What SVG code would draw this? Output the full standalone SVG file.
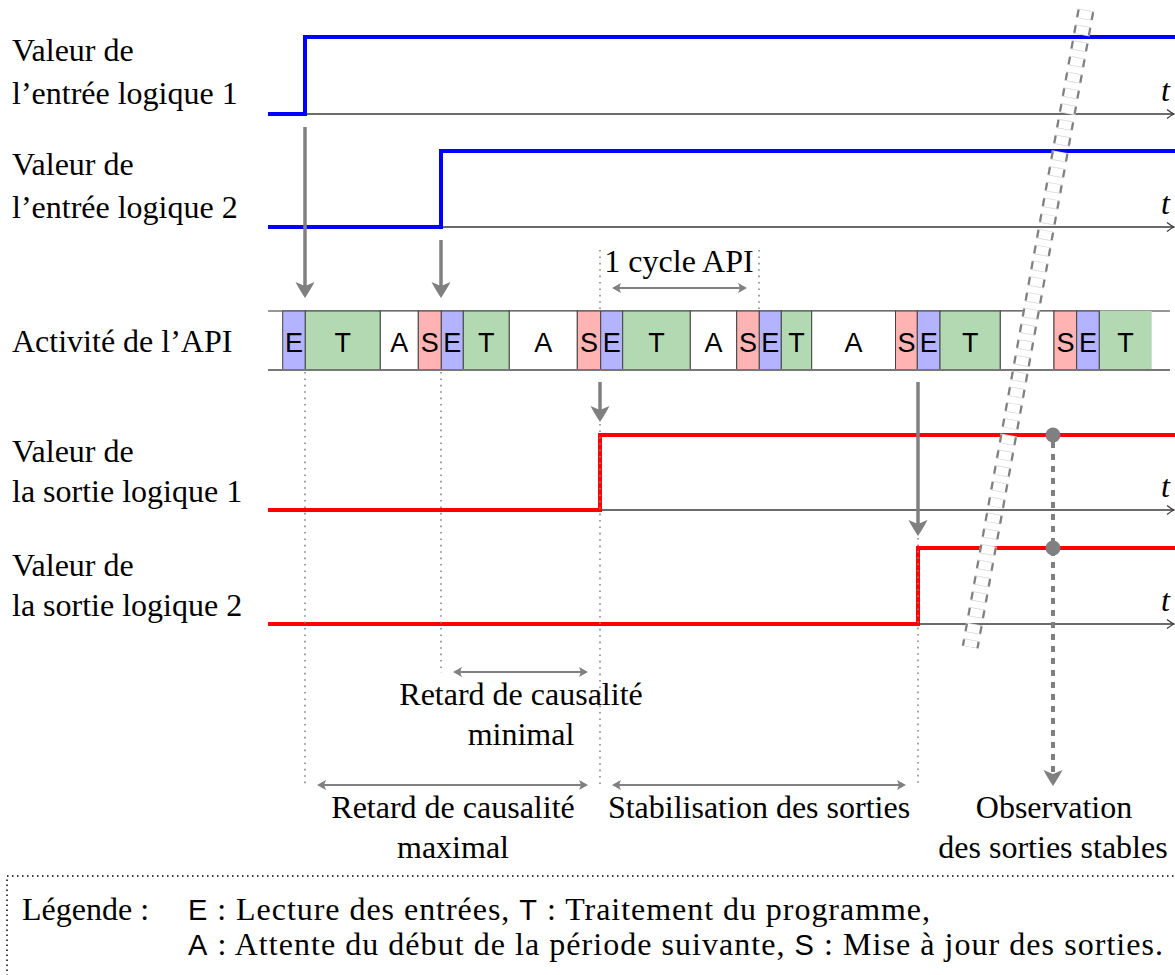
<svg xmlns="http://www.w3.org/2000/svg" xmlns:xlink="http://www.w3.org/1999/xlink" width="1175" height="975" viewBox="0 0 1175 975">
<style>
.lbl{font-family:"Liberation Serif","Times New Roman",serif;font-size:32px;fill:#000}
.mid{text-anchor:middle}
.blk{font-family:"Liberation Sans",Arial,sans-serif;font-size:27px;fill:#000;text-anchor:middle}
.sans{font-family:"Liberation Sans",Arial,sans-serif;font-size:29px}
.axis{stroke:#3a3a3a;stroke-width:1.3;fill:none}
.in{stroke:#0000ff;stroke-width:4;fill:none}
.out{stroke:#ff0000;stroke-width:4;fill:none}
.dot{stroke:#888;stroke-width:1.6;stroke-dasharray:1.6 4.8;fill:none}
.garr{stroke:#808080;stroke-width:3.5;fill:none}
.darr{stroke:#808080;stroke-width:2;fill:none}
.E{fill:#b3b3ff;stroke:#444;stroke-width:1}
.T{fill:#b3d9b3;stroke:#444;stroke-width:1}
.S{fill:#ffb3b3;stroke:#444;stroke-width:1}
.A{fill:#fff;stroke:#444;stroke-width:1}
</style>
<defs>
<path id="hd" d="M0,0 C-4,-2.5 -10,-6.5 -16,-9.5 L-12,0 L-16,9.5 C-10,6.5 -4,2.5 0,0 Z" fill="#808080"/>
<path id="sh" d="M0,0 C-3,-1.5 -6,-3.5 -9,-5 L-7,0 L-9,5 C-6,3.5 -3,1.5 0,0 Z" fill="#808080"/>
<path id="ah" d="M-7,-4.5 Q-2.5,-1 0,0 Q-2.5,1 -7,4.5" stroke="#3a3a3a" stroke-width="1.3" fill="none"/>
</defs>
<rect width="1175" height="975" fill="#fff"/>

<g id="labels">
<text class="lbl" x="12" y="61">Valeur de</text>
<text class="lbl" x="12" y="104">l’entrée logique 1</text>
<text class="lbl" x="12" y="175">Valeur de</text>
<text class="lbl" x="12" y="218">l’entrée logique 2</text>
<text class="lbl" x="12" y="352">Activité de l’API</text>
<text class="lbl" x="12" y="462">Valeur de</text>
<text class="lbl" x="12" y="502">la sortie logique 1</text>
<text class="lbl" x="12" y="576">Valeur de</text>
<text class="lbl" x="12" y="616">la sortie logique 2</text>
</g>

<g id="axes">
<line class="axis" x1="268" y1="114" x2="1174" y2="114"/><use href="#ah" x="1174" y="114"/>
<line class="axis" x1="268" y1="227" x2="1174" y2="227"/><use href="#ah" x="1174" y="227"/>
<line class="axis" x1="268" y1="510" x2="1174" y2="510"/><use href="#ah" x="1174" y="510"/>
<line class="axis" x1="268" y1="624" x2="1174" y2="624"/><use href="#ah" x="1174" y="624"/>
<text class="lbl" x="1161" y="101" font-style="italic">t</text>
<text class="lbl" x="1161" y="214" font-style="italic">t</text>
<text class="lbl" x="1161" y="497" font-style="italic">t</text>
<text class="lbl" x="1161" y="611" font-style="italic">t</text>
</g>

<g id="signals">
<polyline class="in" points="268,114 305,114 305,37 1175,37"/>
<polyline class="in" points="268,227 441,227 441,151 1175,151"/>
<polyline class="out" points="268,510 600,510 600,435 1175,435"/>
<polyline class="out" points="268,624 918,624 918,548 1175,548"/>
</g>

<g id="activite">
<line x1="268" y1="311" x2="1170" y2="311" stroke="#333" stroke-width="1"/>
<rect class="E" x="282.7" y="311" width="22.6" height="59"/>
<rect class="T" x="305.3" y="311" width="75" height="59"/>
<rect class="A" x="380.3" y="311" width="38" height="59"/>
<rect class="S" x="418.3" y="311" width="23" height="59"/>
<rect class="E" x="441.3" y="311" width="22" height="59"/>
<rect class="T" x="463.3" y="311" width="46" height="59"/>
<rect class="A" x="509.3" y="311" width="68" height="59"/>
<rect class="S" x="577.3" y="311" width="23.4" height="59"/>
<rect class="E" x="600.7" y="311" width="22" height="59"/>
<rect class="T" x="622.7" y="311" width="67.6" height="59"/>
<rect class="A" x="690.3" y="311" width="46.4" height="59"/>
<rect class="S" x="736.7" y="311" width="22.6" height="59"/>
<rect class="E" x="759.3" y="311" width="22" height="59"/>
<rect class="T" x="781.3" y="311" width="30.4" height="59"/>
<rect class="A" x="811.7" y="311" width="83.8" height="59"/>
<rect class="S" x="895.5" y="311" width="21.8" height="59"/>
<rect class="E" x="917.3" y="311" width="22.7" height="59"/>
<rect class="T" x="940" y="311" width="60.3" height="59"/>
<rect class="A" x="1000.3" y="311" width="53.7" height="59"/>
<rect class="S" x="1054" y="311" width="22.7" height="59"/>
<rect class="E" x="1076.7" y="311" width="22.6" height="59"/>
<rect x="1099.3" y="311" width="52.4" height="59" fill="#b3d9b3"/>
<line x1="1099.3" y1="311" x2="1099.3" y2="370" stroke="#444" stroke-width="1"/>
<line x1="268" y1="370" x2="1170" y2="370" stroke="#777" stroke-width="1.8"/>
<text class="blk" x="294" y="352">E</text>
<text class="blk" x="342.8" y="352">T</text>
<text class="blk" x="399.3" y="352">A</text>
<text class="blk" x="429.8" y="352">S</text>
<text class="blk" x="452.3" y="352">E</text>
<text class="blk" x="486.3" y="352">T</text>
<text class="blk" x="543.3" y="352">A</text>
<text class="blk" x="589" y="352">S</text>
<text class="blk" x="611.7" y="352">E</text>
<text class="blk" x="656.5" y="352">T</text>
<text class="blk" x="713.5" y="352">A</text>
<text class="blk" x="748" y="352">S</text>
<text class="blk" x="770.3" y="352">E</text>
<text class="blk" x="796.5" y="352">T</text>
<text class="blk" x="853.6" y="352">A</text>
<text class="blk" x="906.4" y="352">S</text>
<text class="blk" x="928.7" y="352">E</text>
<text class="blk" x="970.2" y="352">T</text>
<text class="blk" x="1065.4" y="352">S</text>
<text class="blk" x="1088" y="352">E</text>
<text class="blk" x="1125.5" y="352">T</text>
</g>

<g id="connecteurs">
<line class="dot" x1="305" y1="372" x2="305" y2="786"/>
<line class="dot" x1="441" y1="372" x2="441" y2="673"/>
<line class="dot" x1="600" y1="250" x2="600" y2="309"/>
<line class="dot" x1="759" y1="250" x2="759" y2="309"/>
<line class="dot" x1="600" y1="424" x2="600" y2="786"/>
<line class="dot" x1="918" y1="538" x2="918" y2="786"/>

<line class="garr" x1="305" y1="127" x2="305" y2="288"/><use href="#hd" transform="translate(305,298) rotate(90)"/>
<line class="garr" x1="441" y1="240" x2="441" y2="288"/><use href="#hd" transform="translate(441,298) rotate(90)"/>
<line class="garr" x1="600" y1="382" x2="600" y2="412"/><use href="#hd" transform="translate(600,422) rotate(90)"/>
<line class="garr" x1="918" y1="382" x2="918" y2="526"/><use href="#hd" transform="translate(918,536) rotate(90)"/>

<line x1="1053" y1="442" x2="1053" y2="774" stroke="#808080" stroke-width="4" stroke-dasharray="6 6"/>
<use href="#hd" transform="translate(1053,786) rotate(90)"/>
<circle cx="1053" cy="435" r="7.5" fill="#808080"/>
<circle cx="1053" cy="548" r="7.5" fill="#808080"/>

<line class="darr" x1="618" y1="288" x2="741" y2="288"/><use href="#sh" transform="translate(612,288) rotate(180)"/><use href="#sh" transform="translate(747,288)"/>
<line class="darr" x1="459" y1="672" x2="582" y2="672"/><use href="#sh" transform="translate(453,672) rotate(180)"/><use href="#sh" transform="translate(588,672)"/>
<line class="darr" x1="323" y1="785" x2="582" y2="785"/><use href="#sh" transform="translate(317,785) rotate(180)"/><use href="#sh" transform="translate(588,785)"/>
<line class="darr" x1="618" y1="785" x2="900" y2="785"/><use href="#sh" transform="translate(612,785) rotate(180)"/><use href="#sh" transform="translate(906,785)"/>
</g>

<g id="annotations">
<text class="lbl mid" x="679" y="272">1 cycle API</text>
<text class="lbl mid" x="521" y="705">Retard de causalité</text>
<text class="lbl mid" x="521" y="745">minimal</text>
<text class="lbl mid" x="453" y="818">Retard de causalité</text>
<text class="lbl mid" x="453" y="858">maximal</text>
<text class="lbl mid" x="759" y="818">Stabilisation des sorties</text>
<text class="lbl mid" x="1054" y="818">Observation</text>
<text class="lbl mid" x="1053" y="858">des sorties stables</text>
</g>

<g id="coupure">
<line x1="1086" y1="10" x2="970.2" y2="647" stroke="#d4d4d4" stroke-width="17" stroke-dasharray="9.5 6.5"/>
<line x1="1086" y1="10" x2="970.2" y2="647" stroke="#808080" stroke-width="17" stroke-dasharray="7.5 8.5" stroke-dashoffset="-1"/>
<line x1="1086" y1="10" x2="970.2" y2="647" stroke="#fff" stroke-width="12.5" stroke-dasharray="8.3 7.7" stroke-dashoffset="-0.6"/>
</g>

<g id="legende">
<rect x="7" y="876" width="1180" height="120" fill="none" stroke="#000" stroke-width="1.5" stroke-dasharray="1.5 3.5"/>
<text class="lbl" x="22" y="920">Légende :</text>
<text class="lbl" x="188" y="920" textLength="742" lengthAdjust="spacing"><tspan class="sans">E</tspan> : Lecture des entrées, <tspan class="sans">T</tspan> : Traitement du programme,</text>
<text class="lbl" x="188" y="955" textLength="975" lengthAdjust="spacing"><tspan class="sans">A</tspan> : Attente du début de la période suivante, <tspan class="sans">S</tspan> : Mise à jour des sorties.</text>
</g>
</svg>
